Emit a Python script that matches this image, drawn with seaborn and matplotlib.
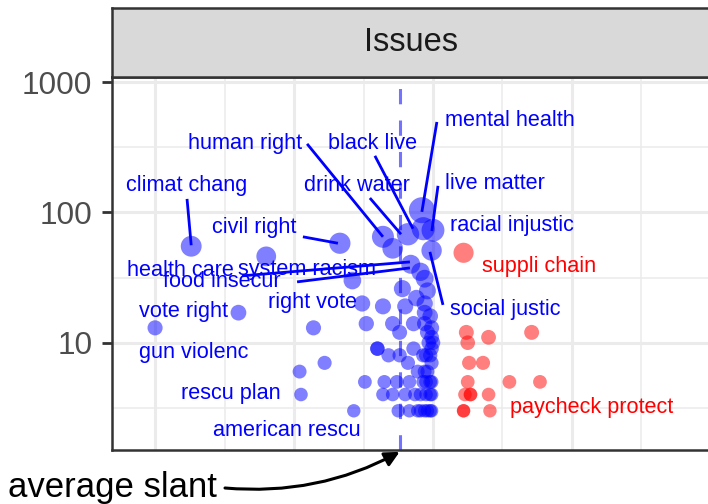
import numpy as np
import pandas as pd
import seaborn as sns
import matplotlib.pyplot as plt

plt.rcParams['font.family'] = ['Liberation Sans', 'DejaVu Sans']

# issue terms: average slant of the tweets and number of tweets
blue_slant = [-0.87, -1.00, -0.70, -0.60, -0.335, -0.43, -0.48, -0.39, -0.475, -0.285,
              -0.29, -0.255, -0.24, -0.245, -0.20, -0.20, -0.18, -0.10, -0.06, -0.03,
              -0.145, -0.12, -0.07, -0.03, -0.02, 0.00, -0.16, -0.12, -0.07, -0.035,
              -0.01, -0.09, -0.055, -0.02, -0.175, -0.13, -0.085, -0.035, -0.01, -0.18,
              -0.145, -0.10, -0.065, -0.01, -0.125, -0.085, -0.045, -0.01,
              -0.055, -0.03, -0.02, -0.005, -0.045, -0.025, -0.005, -0.025, -0.005, -0.03,
              -0.005, -0.025, -0.005, -0.015, -0.005, -0.005, -0.03, -0.01,
              -0.18, -0.145, -0.09, -0.04, -0.035, 0.00, -0.005, -0.08, -0.045, -0.11, -0.03, -0.02]
blue_count = [55, 13, 17, 46, 58, 13, 6, 7, 4, 3,
              30, 20, 14, 5, 9, 9, 19, 19, 22, 20,
              14, 12, 14, 14, 12, 10, 8, 8, 9, 8,
              8, 7, 6, 6, 5, 5, 5, 5, 5, 4,
              4, 4, 4, 4, 3, 3, 3, 3,
              3, 3, 3, 3, 4, 4, 4, 5, 5, 6,
              7, 8, 9, 10, 11, 13, 17, 16,
              65, 53, 68, 104, 75, 73, 51, 40, 35, 26, 31, 25]
red_slant = [0.11, 0.12, 0.20, 0.355, 0.125, 0.13, 0.18, 0.125, 0.275, 0.385,
             0.115, 0.135, 0.135, 0.20, 0.11, 0.11, 0.205]
red_count = [49, 12, 11, 12, 10, 7, 7, 5, 5, 5, 4, 4, 4, 4, 3, 3, 3]
avg_slant = -0.12

# labels (repelled positions) and their leader lines
label_text = ["climat chang", "human right", "black live", "drink water", "mental health",
              "live matter", "racial injustic", "civil right", "health care", "system racism",
              "food insecur", "right vote", "social justic", "suppli chain", "paycheck protect",
              "vote right", "gun violenc", "rescu plan", "american rescu"]
label_side = ["blue"] * 13 + ["red", "red"] + ["blue"] * 4
label_pos = [(-0.888, 160), (-0.676, 341), (-0.216, 341), (-0.273, 160), (0.277, 504),
             (0.223, 168), (0.284, 80), (-0.644, 77), (-0.910, 35.6), (-0.453, 36.2),
             (-0.759, 29.3), (-0.435, 20.2), (0.259, 17.9), (0.381, 38.2), (0.572, 3.16),
             (-0.896, 17.5), (-0.860, 8.36), (-0.727, 4.05), (-0.525, 2.10)]
seg_start = [(-0.885, 127), (-0.453, 336), (-0.209, 272), (-0.227, 129), (0.014, 495),
             (0.018, 160), None, (-0.468, 65), (-0.687, 32.6), None,
             (-0.489, 29.3), None, (0.036, 19.5), None, None, None, None, None, None]
seg_end = [(-0.87, 56), (-0.18, 65), (-0.072, 75), (-0.115, 68), (-0.04, 101),
           (-0.004, 72), None, (-0.342, 58), (-0.083, 41.7), None,
           (-0.083, 37.5), None, (-0.011, 49.8), None, None, None, None, None, None]

df = pd.DataFrame({
    'slant': blue_slant + red_slant,
    'count': blue_count + red_count,
    'side': ['blue'] * len(blue_slant) + ['red'] * len(red_slant),
})

W, H = 708, 504
fig = plt.figure(figsize=(W / 100, H / 100), dpi=100)
ax = fig.add_axes([112 / W, 54 / H, 600 / W, 373 / H])
strip = fig.add_axes([112 / W, 427 / H, 600 / W, 69 / H])

sns.scatterplot(data=df, x='slant', y='count', hue='side', size='count',
                palette={'blue': 'blue', 'red': 'red'}, sizes=(93, 350), size_norm=(3, 104),
                alpha=0.5, linewidth=0, legend=False, ax=ax, zorder=3)
ax.set_yscale('log')
ax.set_xlim(-1.155, 1.004)
ax.set_ylim(1.50, 1096)

ax.axvline(avg_slant, color=(0, 0, 1, 0.55), lw=2.2, dashes=(5, 5.3), zorder=2)

for t, side, (lx, ly), s0, s1 in zip(label_text, label_side, label_pos, seg_start, seg_end):
    if s0 is not None:
        ax.plot([s0[0], s1[0]], [s0[1], s1[1]], color=side, lw=2.0, zorder=4,
                solid_capstyle='butt')
    ax.text(lx, ly, t, color=side, fontsize=15.6, ha='center', va='center', zorder=5)

# ggplot theme_bw look
ax.set_facecolor('white')
ax.set_xticks([-1, -0.5, 0, 0.5])
ax.set_xticks([-0.75, -0.25, 0.25, 0.75], minor=True)
ax.set_yticks([10, 100, 1000])
ax.set_yticks([10 ** 0.5, 10 ** 1.5, 10 ** 2.5], minor=True)
ax.set_yticklabels(['10', '100', '1000'])
ax.set_xticklabels([])
ax.set_xticklabels([], minor=True)
ax.set_yticklabels([], minor=True)
ax.grid(which='major', color='#ebebeb', lw=2.2, zorder=0)
ax.grid(which='minor', color='#ebebeb', lw=1.1, zorder=0)
ax.set_axisbelow(True)
ax.tick_params(axis='x', which='both', length=0)
ax.tick_params(axis='y', which='minor', length=0)
ax.tick_params(axis='y', which='major', length=7.2, width=2.0, color='#333333',
               labelsize=22.7, labelcolor='#4d4d4d', pad=7)
ax.set_xlabel('')
ax.set_ylabel('')
for sp in ax.spines.values():
    sp.set_color('#333333')
    sp.set_linewidth(1.8)

strip.set_facecolor('#d9d9d9')
strip.set_xticks([])
strip.set_yticks([])
for sp in strip.spines.values():
    sp.set_color('#333333')
    sp.set_linewidth(1.8)
strip.text(299 / 600, 0.5, 'Issues', transform=strip.transAxes, ha='center', va='center',
           fontsize=23.5, color='#1a1a1a')

fig.text(8 / W, 1 - 488 / H, 'average slant', fontsize=25, ha='left', va='center', color='black')
ax.annotate('', xy=(avg_slant, -0.005), xycoords=('data', 'axes fraction'),
            xytext=(225 / W, 1 - 488 / H), textcoords='figure fraction',
            arrowprops=dict(arrowstyle='-|>', color='black', lw=2.2, mutation_scale=22,
                            shrinkA=0, shrinkB=0, connectionstyle='arc3,rad=0.15'),
            annotation_clip=False)

fig.savefig('out.png', dpi=100)
